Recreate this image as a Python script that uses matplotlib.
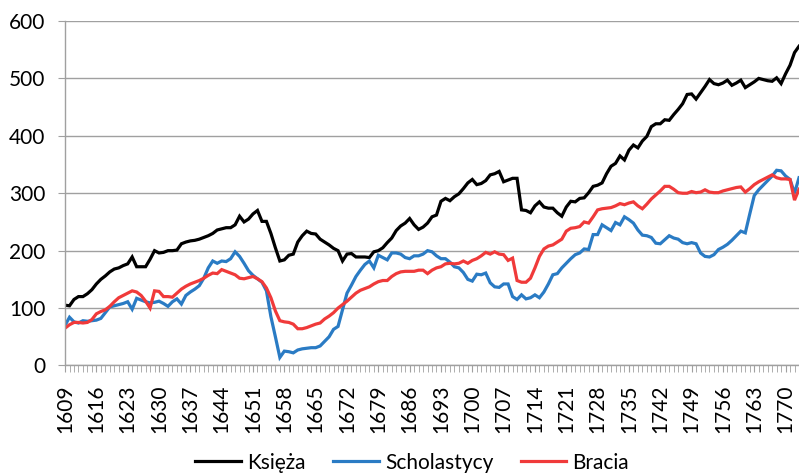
import matplotlib.pyplot as plt
from matplotlib.ticker import MultipleLocator

plt.rcParams['font.family'] = ['Lato', 'DejaVu Sans']

years = list(range(1609, 1774))

ksieza = [105, 104, 115, 120, 120, 125, 132, 142, 150, 156,
          163, 168, 170, 174, 177, 189, 172, 172, 172, 185,
          200, 196, 197, 200, 200, 201, 212, 215, 217, 218,
          220, 223, 226, 230, 236, 238, 240, 240, 245, 260,
          250, 255, 264, 270, 251, 251, 230, 205, 182, 184,
          192, 194, 215, 226, 234, 230, 229, 220, 215, 210,
          204, 200, 182, 194, 195, 189, 189, 189, 188, 198,
          200, 205, 214, 222, 235, 243, 248, 256, 245, 237,
          241, 248, 259, 262, 286, 291, 287, 294, 299, 308,
          318, 324, 315, 317, 322, 332, 334, 338, 320, 323,
          326, 326, 271, 270, 266, 278, 285, 276, 274, 274,
          266, 260, 276, 286, 285, 291, 292, 301, 312, 314,
          318, 334, 347, 352, 365, 358, 375, 384, 379, 391,
          399, 416, 421, 421, 428, 427, 437, 446, 456, 472,
          473, 464, 475, 486, 498, 491, 489, 492, 497, 488,
          492, 497, 484, 489, 494, 500, 498, 496, 495, 501,
          491, 508, 523, 545, 556]

scholastycy = [70, 84, 76, 74, 78, 77, 78, 79, 82, 92,
               102, 104, 106, 108, 111, 98, 117, 114, 111, 109,
               110, 112, 108, 103, 111, 116, 107, 122, 128, 133,
               139, 152, 170, 182, 178, 182, 181, 186, 198, 190,
               178, 165, 157, 151, 145, 130, 85, 50, 14, 25,
               24, 22, 27, 29, 30, 31, 31, 34, 42, 50,
               63, 68, 97, 126, 140, 155, 166, 176, 182, 170,
               192, 188, 184, 196, 196, 194, 188, 186, 191, 191,
               194, 200, 198, 191, 186, 186, 180, 172, 170, 162,
               150, 147, 159, 158, 161, 144, 137, 136, 142, 142,
               120, 115, 123, 116, 118, 123, 118, 128, 142, 158,
               160, 170, 178, 186, 193, 196, 203, 202, 228, 228,
               245, 240, 235, 249, 245, 259, 254, 248, 236, 227,
               226, 223, 213, 212, 219, 226, 222, 220, 214, 212,
               214, 212, 196, 190, 189, 193, 202, 206, 211, 218,
               226, 234, 231, 264, 296, 306, 314, 322, 330, 340,
               339, 330, 324, 300, 327]

bracia = [65, 71, 75, 75, 74, 75, 80, 90, 94, 97,
          103, 111, 118, 122, 126, 130, 128, 122, 112, 100,
          130, 129, 120, 120, 119, 126, 133, 138, 142, 145,
          148, 152, 157, 161, 160, 167, 164, 161, 158, 152,
          151, 153, 155, 151, 146, 135, 118, 95, 78, 76,
          75, 72, 64, 64, 66, 69, 72, 74, 81, 86,
          92, 100, 106, 112, 119, 126, 131, 134, 137, 142,
          146, 148, 148, 155, 160, 163, 164, 164, 164, 166,
          166, 160, 166, 170, 172, 177, 178, 177, 178, 182,
          178, 183, 186, 191, 197, 194, 198, 194, 193, 183,
          187, 148, 145, 145, 152, 170, 190, 203, 208, 210,
          215, 220, 234, 239, 240, 242, 250, 248, 259, 271,
          273, 274, 275, 278, 282, 280, 283, 285, 278, 273,
          281, 290, 297, 304, 312, 312, 307, 301, 300, 300,
          303, 301, 302, 306, 302, 301, 301, 304, 306, 308,
          310, 311, 302, 308, 315, 320, 324, 328, 332, 327,
          325, 325, 324, 288, 307]

labels = ['Księża', 'Scholastycy', 'Bracia']
colors = ['#000000', '#2a7bc4', '#f03a3a']

fig = plt.figure(figsize=(7.99, 4.73), dpi=100)
ax = fig.add_axes([0.0814, 0.2273, 0.9186, 0.7283])

for s, lab, c in zip([ksieza, scholastycy, bracia], labels, colors):
    ax.plot(years, s, color=c, lw=2.3, label=lab, solid_joinstyle='miter')

ax.set_xlim(1609, 1773)
ax.set_ylim(0, 600)
ax.set_yticks(range(0, 601, 100))
ax.set_xticks(range(1609, 1774, 7))
ax.xaxis.set_minor_locator(MultipleLocator(1))
ax.tick_params(axis='x', which='major', labelsize=15, rotation=90,
               length=5, color='#a0a0a0', pad=9)
ax.tick_params(axis='x', which='minor', length=5, color='#a0a0a0')
ax.tick_params(axis='y', labelsize=15, length=5, color='#a0a0a0', pad=9)

ax.grid(axis='y', color='#a0a0a0', lw=1)
ax.set_axisbelow(True)
for side in ['top', 'right']:
    ax.spines[side].set_visible(False)
for side in ['left', 'bottom']:
    ax.spines[side].set_color('#a0a0a0')
    ax.spines[side].set_linewidth(1)

fig.legend(loc='center', bbox_to_anchor=(0.516, 0.022), ncol=3,
           frameon=False, fontsize=15, handlelength=2.2,
           handletextpad=0.3, columnspacing=1.3)

fig.savefig('out.png', dpi=100)
